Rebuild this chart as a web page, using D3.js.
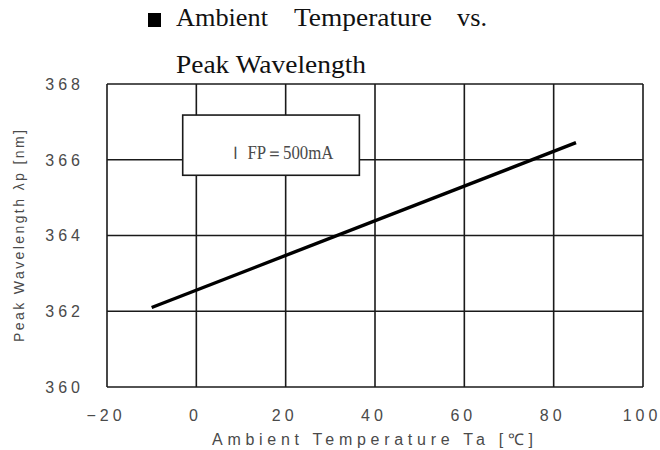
<!DOCTYPE html>
<html>
<head>
<meta charset="utf-8">
<script src="https://cdn.jsdelivr.net/npm/d3@7"></script>
<style>
  html, body { margin: 0; padding: 0; background: #fff; }
  svg { display: block; }
</style>
</head>
<body>
<svg id="chart" width="660" height="450"></svg>
<script>
// Peak wavelength vs. ambient temperature at IFP = 500 mA
const temperature = [-10, 85];          // Ta [°C]
const wavelength  = [362.1, 366.45];    // λp [nm]

const xTicks = [-20, 0, 20, 40, 60, 80, 100];
const yTicks = [360, 362, 364, 366, 368];

const titleWords = ["Ambient", "Temperature", "vs."];
const titleLine2 = "Peak Wavelength";
const xTitle = "Ambient Temperature Ta [℃]";
const yTitle = "Peak Wavelength λp [nm]";
const condition = "Ｉ FP＝500mA";

const svg = d3.select("#chart");

const x = d3.scaleLinear().domain([-20, 100]).range([107, 643]);
const y = d3.scaleLinear().domain([360, 368]).range([387, 84]);

const ink = "#1a1a1a";
const grey = "#4a4a4a";

// grid
const grid = svg.append("g").attr("stroke", ink).attr("stroke-width", 1.6);
grid.selectAll("line.v").data(xTicks).join("line")
  .attr("x1", d => x(d)).attr("x2", d => x(d))
  .attr("y1", y(368)).attr("y2", y(360));
grid.selectAll("line.h").data(yTicks).join("line")
  .attr("x1", x(-20)).attr("x2", x(100))
  .attr("y1", d => y(d)).attr("y2", d => y(d));

// condition box (covers the grid behind it)
const box = { t0: -3.05, t1: 36.5, w0: 365.59, w1: 367.18 };
svg.append("rect")
  .attr("x", x(box.t0)).attr("y", y(box.w1))
  .attr("width", x(box.t1) - x(box.t0)).attr("height", y(box.w0) - y(box.w1))
  .attr("fill", "#fff").attr("stroke", ink).attr("stroke-width", 1.6);
svg.append("text")
  .attr("x", 226.5).attr("y", 159)
  .attr("font-family", "'Liberation Serif', 'DejaVu Serif', serif")
  .attr("font-size", 18).attr("fill", grey)
  .attr("textLength", 107).attr("lengthAdjust", "spacingAndGlyphs")
  .text(condition);

// data line
const pts = temperature.map((t, i) => [t, wavelength[i]]);
svg.append("path")
  .datum(pts)
  .attr("fill", "none").attr("stroke", "#000").attr("stroke-width", 3.4)
  .attr("stroke-linecap", "butt")
  .attr("d", d3.line().x(d => x(d[0])).y(d => y(d[1])));

// tick labels
const tickFont = "'Liberation Sans', Arial, sans-serif";
svg.append("g").selectAll("text").data(yTicks).join("text")
  .attr("x", 84).attr("y", d => y(d)).attr("dy", "0.36em")
  .attr("text-anchor", "end")
  .attr("font-family", tickFont).attr("font-size", 16).attr("fill", grey)
  .attr("letter-spacing", 4)
  .text(d => d);

svg.append("g").selectAll("text").data(xTicks).join("text")
  .attr("x", d => x(d) - 1).attr("y", 421)
  .attr("text-anchor", "middle")
  .attr("font-family", tickFont).attr("font-size", 16).attr("fill", grey)
  .attr("letter-spacing", 4)
  .text(d => d < 0 ? "−" + Math.abs(d) : d);

// axis titles
svg.append("text")
  .attr("x", 212).attr("y", 445)
  .attr("font-family", tickFont).attr("font-size", 16).attr("fill", grey)
  .attr("textLength", 321).attr("lengthAdjust", "spacing")
  .text(xTitle);

svg.append("text")
  .attr("transform", "translate(24,342) rotate(-90)")
  .attr("font-family", tickFont).attr("font-size", 14).attr("fill", grey)
  .attr("textLength", 212).attr("lengthAdjust", "spacing")
  .text(yTitle);

// title
const titleFont = "'Liberation Serif', 'Times New Roman', serif";
svg.append("rect")
  .attr("x", 148).attr("y", 13).attr("width", 13).attr("height", 14)
  .attr("fill", "#000");
const wordX = [176, 294, 457];
const wordW = [92, 138, 30];
svg.append("g").selectAll("text").data(titleWords).join("text")
  .attr("x", (d, i) => wordX[i]).attr("y", 26)
  .attr("font-family", titleFont).attr("font-size", 25).attr("fill", "#111")
  .attr("textLength", (d, i) => wordW[i]).attr("lengthAdjust", "spacingAndGlyphs")
  .text(d => d);
svg.append("text")
  .attr("x", 176).attr("y", 73)
  .attr("font-family", titleFont).attr("font-size", 25).attr("fill", "#111")
  .attr("textLength", 190).attr("lengthAdjust", "spacingAndGlyphs")
  .text(titleLine2);
</script>
</body>
</html>
